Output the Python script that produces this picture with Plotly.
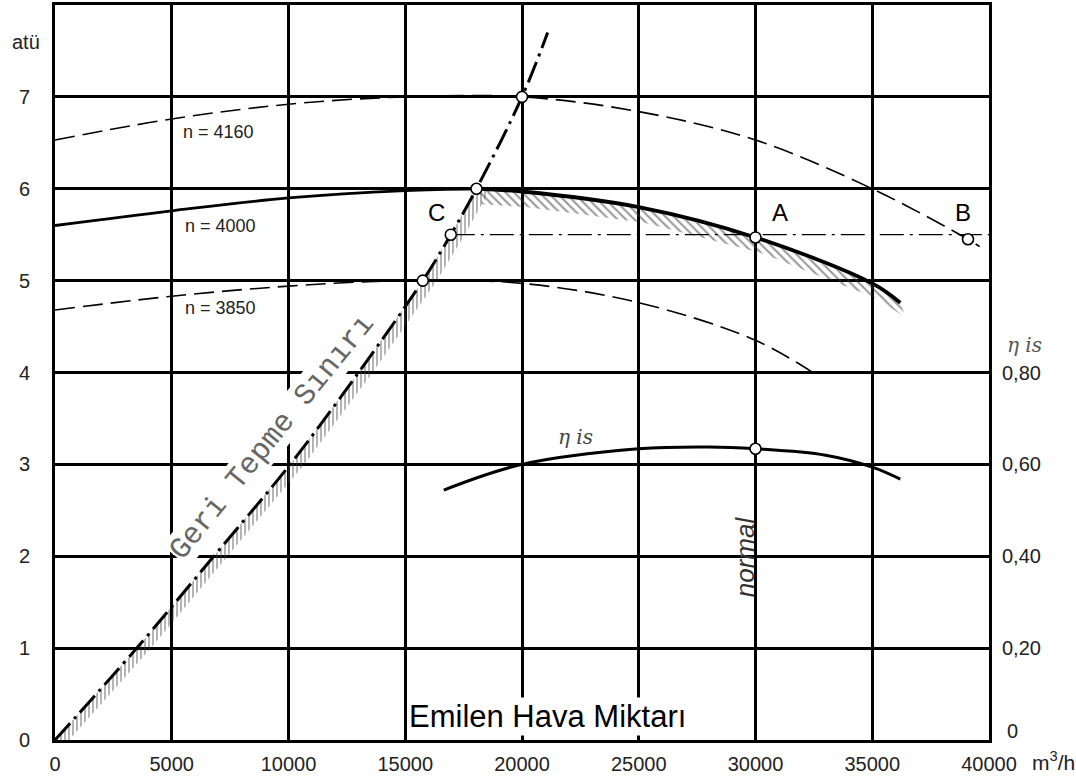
import plotly.graph_objects as go

# ---------------- data ----------------
Q_4160 = [0, 5000, 10000, 15000, 20000, 25000, 30000, 35000, 39100, 39600]
P_4160 = [6.53, 6.76, 6.92, 7.0, 7.0, 6.84, 6.53, 6.0, 5.45, 5.37]

Q_4000 = [0, 5000, 10000, 15000, 18050, 20000, 25000, 30000, 35000, 36200]
P_4000 = [5.6, 5.76, 5.9, 5.98, 6.0, 5.97, 5.8, 5.47, 4.97, 4.76]

Q_3850 = [0, 5000, 10000, 15000, 20000, 25000, 30000, 32700]
P_3850 = [4.68, 4.83, 4.94, 5.0, 4.97, 4.76, 4.35, 3.96]

Q_ETA = [16650, 20000, 25000, 28000, 30000, 33000, 35000, 36200]
ETA = [0.544, 0.60, 0.634, 0.638, 0.634, 0.62, 0.594, 0.568]

Q_SURGE = [0, 3500, 6800, 10070, 13000, 15750, 16950, 18050, 20000, 21100]
P_SURGE = [0, 1, 2, 3, 4, 5, 5.5, 6, 7, 7.7]

Q_POINTS = [15750, 16950, 18050, 20000, 30000, 39100]
P_POINTS = [5.0, 5.5, 6.0, 7.0, 5.47, 5.45]

Q_NORMAL = 30000
P_OPERATING = 5.5
ETA_NORMAL = 0.634

X_TICKS = [0, 5000, 10000, 15000, 20000, 25000, 30000, 35000, 40000]
Y_TICKS = [0, 1, 2, 3, 4, 5, 6, 7]
ETA_TICKS = [0.2, 0.4, 0.6, 0.8]
ETA_TICKTEXT = ["0,20", "0,40", "0,60", "0,80"]
ETA_ZERO_LABEL = "0"

SPEED_LABELS = ["n = 4160", "n = 4000", "n = 3850"]

FONT = "Arial, Liberation Sans, sans-serif"

fig = go.Figure()

# ---------------- hatched bands ----------------
n_surge = Q_SURGE.index(18050) + 1
sx_up = Q_SURGE[:n_surge]
sy_up = P_SURGE[:n_surge]
band_dx = 600
fig.add_trace(go.Scatter(
    x=sx_up + [q + band_dx for q in reversed(sx_up)] + [sx_up[0]],
    y=sy_up + list(reversed(sy_up)) + [sy_up[0]],
    mode="lines", line=dict(width=0), fill="toself",
    fillcolor="rgba(0,0,0,0)",
    fillpattern=dict(shape="|", fgcolor="#444", bgcolor="rgba(0,0,0,0)",
                     size=4, solidity=0.4),
    hoverinfo="skip", showlegend=False))

i0 = Q_4000.index(18050)
hx = Q_4000[i0:]
hy = P_4000[i0:]
band_dy = 0.17
fig.add_trace(go.Scatter(
    x=hx + [q + 250 for q in reversed(hx)] + [hx[0]],
    y=hy + [p - band_dy for p in reversed(hy)] + [hy[0]],
    mode="lines", line=dict(width=0), fill="toself",
    fillcolor="rgba(0,0,0,0)",
    fillpattern=dict(shape="\\", fgcolor="#333", bgcolor="rgba(0,0,0,0)",
                     size=6, solidity=0.35),
    hoverinfo="skip", showlegend=False))

# ---------------- speed curves ----------------
fig.add_trace(go.Scatter(x=Q_4160, y=P_4160, mode="lines",
                         line=dict(color="black", width=1.6, dash="20px,8px", shape="spline"),
                         showlegend=False, hoverinfo="skip"))
fig.add_trace(go.Scatter(x=Q_3850, y=P_3850, mode="lines",
                         line=dict(color="black", width=1.6, dash="20px,8px", shape="spline"),
                         showlegend=False, hoverinfo="skip"))
fig.add_trace(go.Scatter(x=Q_4000[:i0 + 1], y=P_4000[:i0 + 1], mode="lines",
                         line=dict(color="black", width=2.8, shape="spline"),
                         showlegend=False, hoverinfo="skip"))
fig.add_trace(go.Scatter(x=Q_4000[i0:], y=P_4000[i0:], mode="lines",
                         line=dict(color="black", width=3.8, shape="spline"),
                         showlegend=False, hoverinfo="skip"))

# operating line C - A - B
fig.add_trace(go.Scatter(x=[Q_POINTS[1], 40000], y=[P_OPERATING, P_OPERATING], mode="lines",
                         line=dict(color="black", width=1.2, dash="24px,6px,3px,6px"),
                         showlegend=False, hoverinfo="skip"))

# normal line
fig.add_trace(go.Scatter(x=[Q_NORMAL, Q_NORMAL], y=[0, P_POINTS[4]], mode="lines",
                         line=dict(color="black", width=2.6, dash="40px,6px,3px,6px"),
                         showlegend=False, hoverinfo="skip"))

# surge line
fig.add_trace(go.Scatter(x=Q_SURGE, y=P_SURGE, mode="lines",
                         line=dict(color="black", width=3, dash="22px,6px,3px,6px", shape="spline"),
                         showlegend=False, hoverinfo="skip"))

# efficiency curve
fig.add_trace(go.Scatter(x=Q_ETA, y=ETA, yaxis="y2", mode="lines",
                         line=dict(color="black", width=3, shape="spline"),
                         showlegend=False, hoverinfo="skip"))

# points
fig.add_trace(go.Scatter(x=Q_POINTS, y=P_POINTS, mode="markers",
                         marker=dict(size=11, color="white", line=dict(color="black", width=1.6)),
                         showlegend=False, hoverinfo="skip"))
fig.add_trace(go.Scatter(x=[Q_NORMAL], y=[ETA_NORMAL], yaxis="y2", mode="markers",
                         marker=dict(size=11, color="white", line=dict(color="black", width=1.6)),
                         showlegend=False, hoverinfo="skip"))

# ---------------- annotations ----------------
ann = []
speed_pos = [(7000, 6.62), (7100, 5.6), (7100, 4.7)]
for lbl, (xx, yy) in zip(SPEED_LABELS, speed_pos):
    ann.append(dict(x=xx, y=yy, text=lbl, showarrow=False,
                    font=dict(family=FONT, size=18, color="#222")))

for lbl, xx, yy in [("C", 16350, 5.74), ("A", 31050, 5.74), ("B", 38900, 5.74)]:
    ann.append(dict(x=xx, y=yy, text=lbl, showarrow=False,
                    font=dict(family=FONT, size=24, color="black")))

ann.append(dict(x=9300, y=3.3, text="Geri Tepme Sınırı", showarrow=False, textangle=-51,
                font=dict(family="Liberation Mono, Courier New, monospace", size=30, color="#666"),
                bgcolor="white", borderpad=0))

ann.append(dict(x=29550, y=2.0, text="<i>normal</i>", showarrow=False, textangle=-90,
                font=dict(family=FONT, size=26, color="#333")))

ann.append(dict(x=22300, y=3.3, text="<i>η is</i>", showarrow=False,
                font=dict(family="DejaVu Serif, serif", size=20, color="#444")))

ann.append(dict(x=21100, y=0.26, text="Emilen Hava Miktarı", showarrow=False,
                font=dict(family=FONT, size=31, color="black"),
                bgcolor="white", borderpad=1))

ann.append(dict(xref="paper", x=-0.031, xanchor="center", y=7.6, yanchor="middle",
                text="atü", showarrow=False, font=dict(family=FONT, size=20, color="#222")))
ann.append(dict(xref="paper", yref="paper", x=1.044, xanchor="left", y=-0.029, yanchor="middle",
                text="m<sup>3</sup>/h", showarrow=False,
                font=dict(family=FONT, size=21, color="#222")))
ann.append(dict(xref="paper", x=1.017, xanchor="left", y=4.3, yanchor="middle",
                text="<i>η is</i>", showarrow=False,
                font=dict(family="DejaVu Serif, serif", size=20, color="#555")))
ann.append(dict(xref="paper", yref="y2", x=1.017, xanchor="left", y=0, yanchor="middle",
                yshift=9, text=ETA_ZERO_LABEL, showarrow=False,
                font=dict(family=FONT, size=20, color="#222")))

axis_font = dict(family=FONT, size=20, color="#222")

fig.update_layout(
    width=1076, height=780,
    margin=dict(l=55, r=87, t=5, b=40, autoexpand=False),
    paper_bgcolor="white", plot_bgcolor="white",
    showlegend=False,
    annotations=ann,
    xaxis=dict(range=[0, 40000], tickvals=X_TICKS, ticktext=[str(v) for v in X_TICKS],
               showgrid=True, gridcolor="black", gridwidth=3, automargin=False,
               showline=True, linecolor="black", linewidth=3, mirror=True,
               zeroline=False, ticks="", ticklabelstandoff=4, tickfont=axis_font),
    yaxis=dict(range=[0, 8], tickvals=Y_TICKS, ticktext=[str(v) for v in Y_TICKS],
               showgrid=True, gridcolor="black", gridwidth=3, automargin=False,
               showline=True, linecolor="black", linewidth=3, mirror=True,
               zeroline=False, ticks="", ticklabelstandoff=18, tickfont=axis_font),
    yaxis2=dict(range=[0, 1.6], overlaying="y", side="right", anchor="x",
                tickvals=ETA_TICKS, ticktext=ETA_TICKTEXT, showgrid=False, automargin=False,
                zeroline=False, showline=False, ticks="", ticklabelstandoff=12,
                tickfont=axis_font),
)

fig.write_html("out.html", config={"displayModeBar": False},
               post_script="document.body.style.margin='0';document.body.style.overflow='hidden';")
